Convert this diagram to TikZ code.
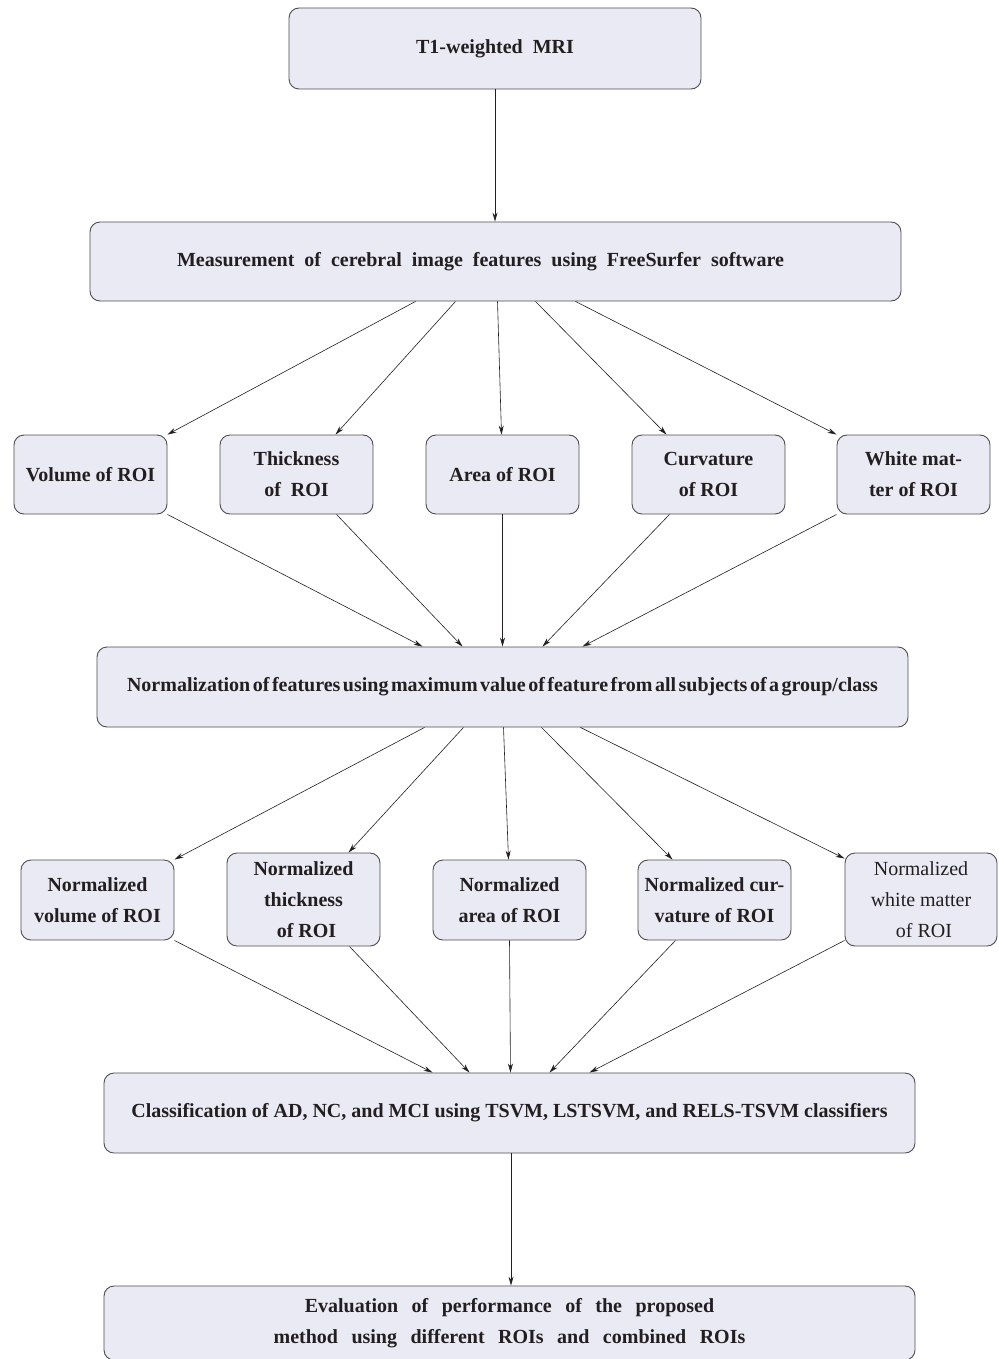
\documentclass[tikz,border=0pt]{standalone}
\usepackage{fontspec}
\setmainfont{Liberation Serif}
\usetikzlibrary{arrows.meta}
\definecolor{boxfill}{HTML}{EAEAF4}
\definecolor{boxline}{HTML}{4D4D4D}
\definecolor{txt}{HTML}{231F20}
\newcommand{\gap}{\hspace{13.5pt}}
\begin{document}
\begin{tikzpicture}[x=1pt,y=-1pt,
  box/.style={draw=boxline, fill=boxfill, rounded corners=10pt, line width=0.9pt,
    text=txt, font=\bfseries\fontsize{20}{31}\selectfont, align=center, inner sep=0pt},
  wide/.style={box, minimum width=811pt, minimum height=80pt},
  small/.style={box, minimum width=153pt, minimum height=79pt},
  tall/.style={box, minimum width=153pt, minimum height=93pt},
  arr/.style={-{Stealth[length=9pt,width=5pt,inset=3pt]}, line width=0.6pt, draw=txt}]
\useasboundingbox (0,0) rectangle (998,1359);
\node[box, minimum width=412pt, minimum height=81pt] (mri) at (495,48.5) {T1-weighted\ \ MRI};
\node[wide, minimum height=79pt] (meas) at (495.5,261.5) {Measurement\ \ of\ \ cerebral\ \ image\ \ features\ \ using\ \ FreeSurfer\ \ software\hspace*{30pt}};
\node[small] (vol) at (90.5,474.5) {Volume of ROI};
\node[small] (thk) at (296.5,474.5) {Thickness\\of\ \ ROI};
\node[small] (area) at (502.5,474.5) {Area of ROI};
\node[small] (curv) at (708.5,474.5) {Curvature\\of ROI};
\node[small] (wm) at (913.5,474.5) {White mat-\\ter of ROI};
\node[wide] (norm) at (502.5,687) {\spaceskip=2.5pt Normalization of features using maximum value of feature from all subjects of a group/class};
\node[small, minimum height=80pt] (nvol) at (97.5,900) {Normalized\\volume of ROI};
\node[tall] (nthk) at (303.5,899.5) {Normalized\\thickness\\\hspace{6pt}of ROI};
\node[small, minimum height=80pt] (narea) at (509.5,900) {Normalized\\area of ROI};
\node[small, minimum height=80pt] (ncurv) at (714.5,900) {Normalized cur-\\vature of ROI};
\node[tall, minimum width=152pt, font=\mdseries\fontsize{20}{31}\selectfont] (nwm) at (921,899.5) {Normalized\\white matter\\\hspace{6pt}of ROI};
\node[wide] (cls) at (509.5,1113) {Classification of AD, NC, and MCI using TSVM, LSTSVM, and RELS-TSVM classifiers};
\node[wide, minimum height=74pt] (eval) at (509.5,1323) {Evaluation\gap of\gap performance\gap of\gap the\gap proposed\\method\gap using\gap different\gap ROIs\gap and\gap combined\gap ROIs};
\draw[arr] (mri.south) -- (mri.south |- meas.north);
\draw[arr] ([xshift=-80pt]meas.south) -- (vol.north east);
\draw[arr] ([xshift=-40pt]meas.south) -- ([xshift=39pt]thk.north);
\draw[arr] ([xshift=2pt]meas.south) -- ([xshift=-1pt]area.north);
\draw[arr] ([xshift=40pt]meas.south) -- ([xshift=-42pt]curv.north);
\draw[arr] ([xshift=80pt]meas.south) -- (wm.north west);
\draw[arr] (vol.south east) -- ([xshift=-80pt]norm.north);
\draw[arr] ([xshift=40pt]thk.south) -- ([xshift=-40pt]norm.north);
\draw[arr] (area.south) -- (norm.north);
\draw[arr] ([xshift=-39pt]curv.south) -- ([xshift=40pt]norm.north);
\draw[arr] (wm.south west) -- ([xshift=80pt]norm.north);
\draw[arr] ([xshift=-78pt]norm.south) -- (nvol.north east);
\draw[arr] ([xshift=-39pt]norm.south) -- ([xshift=45pt]nthk.north);
\draw[arr] ([xshift=1pt]norm.south) -- ([xshift=-1pt]narea.north);
\draw[arr] ([xshift=39pt]norm.south) -- ([xshift=-42pt]ncurv.north);
\draw[arr] ([xshift=78pt]norm.south) -- ([yshift=-6pt]nwm.north west);
\draw[arr] (nvol.south east) -- ([xshift=-77pt]cls.north);
\draw[arr] ([xshift=46pt]nthk.south) -- ([xshift=-40pt]cls.north);
\draw[arr] (narea.south) -- ([xshift=1pt]cls.north);
\draw[arr] ([xshift=-39pt]ncurv.south) -- ([xshift=40pt]cls.north);
\draw[arr] ([yshift=6pt]nwm.south west) -- ([xshift=80pt]cls.north);
\draw[arr] ([xshift=1.5pt]cls.south) -- ([xshift=1.5pt]eval.north);
\end{tikzpicture}
\end{document}
